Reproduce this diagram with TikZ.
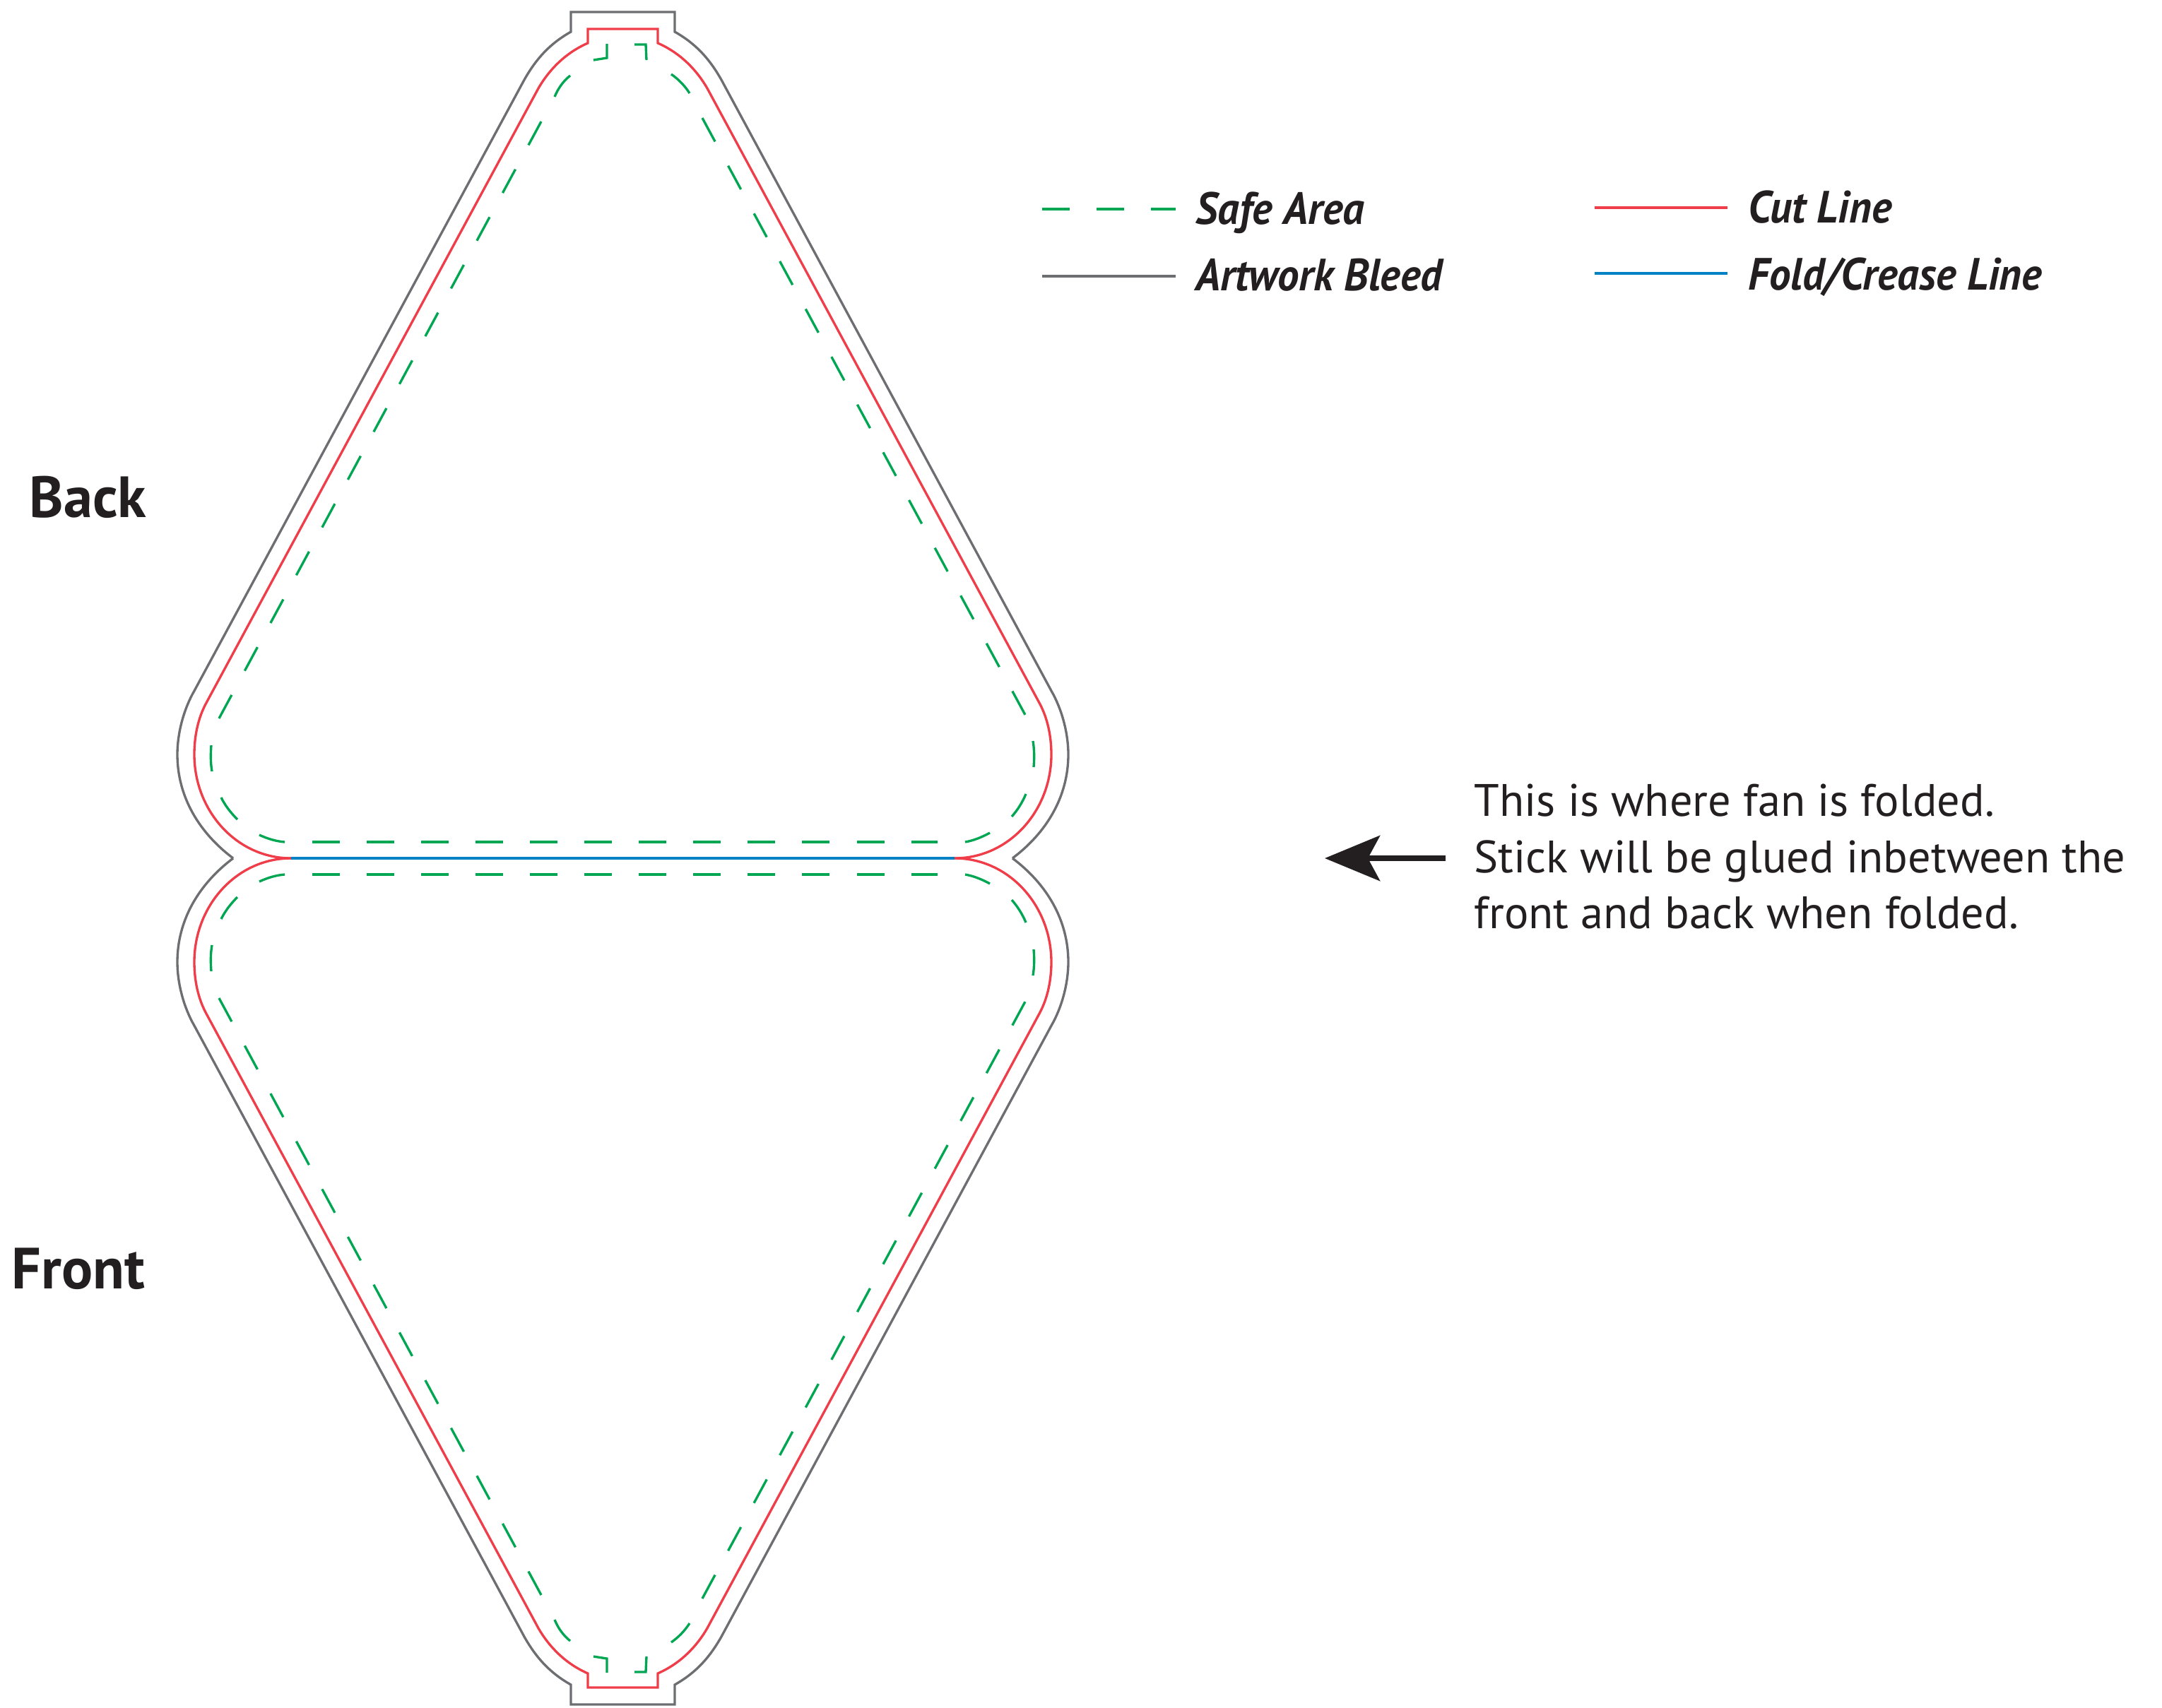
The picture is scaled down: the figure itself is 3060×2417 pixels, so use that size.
\documentclass[tikz,border=0pt]{standalone}
\usepackage{fontspec}
\usetikzlibrary{arrows.meta}
\setmainfont{PT Sans}
\newfontfamily\legendfont[FakeStretch=0.95]{PT Sans}
\definecolor{bleedgray}{HTML}{6D6E71}
\definecolor{cutred}{HTML}{EF3E4A}
\definecolor{safegreen}{HTML}{00A651}
\definecolor{foldblue}{HTML}{0082C4}
\definecolor{inkblack}{HTML}{231F20}
\tikzset{
  bleedline/.style={draw=bleedgray,line width=0.95pt,line join=miter},
  cutline/.style={draw=cutred,line width=0.95pt,line join=miter},
  foldline/.style={draw=foldblue,line width=0.95pt},
  safeline/.style={draw=safegreen,line width=0.95pt},
  legendtext/.style={inner sep=0pt,anchor=base west,text=inkblack,font=\legendfont\bfseries\itshape\fontsize{18.2}{22}\selectfont},
  paneltext/.style={inner sep=0pt,anchor=base east,text=inkblack,font=\bfseries\fontsize{23.4}{26}\selectfont},
  notetext/.style={inner sep=0pt,anchor=north west,align=left,text=inkblack,font=\fontsize{18.3}{22.7}\selectfont},
}
\newcommand{\fanpanel}{%
  \draw[bleedline] (330,1215) .. controls (282,1179) and (251,1128) .. (251,1068)
    .. controls (251,1038) and (260,1004) .. (275,978) -- (742,113)
    .. controls (759,83) and (778,62) .. (808,45) -- (808,17) -- (955,17) -- (955,45)
    .. controls (985,62) and (1004,83) .. (1021,113) -- (1488,978)
    .. controls (1503,1004) and (1512,1038) .. (1512,1068)
    .. controls (1512,1128) and (1481,1179) .. (1433,1215);
  \draw[cutline] (412,1215) .. controls (335,1215) and (275,1148) .. (275,1068)
    .. controls (275,1043) and (280,1017) .. (292,995) -- (762,125)
    .. controls (777,99) and (800,75) .. (832,61) -- (832,41) -- (931,41) -- (931,61)
    .. controls (963,75) and (986,99) .. (1001,125) -- (1471,995)
    .. controls (1483,1017) and (1488,1043) .. (1488,1068)
    .. controls (1488,1148) and (1428,1215) .. (1351,1215);
  % safe area, left half
  \draw[safeline] (859,62) -- (859,82) -- (840,85);
  \draw[safeline] (807,107) .. controls (797,115) and (790,125) .. (785,137);
  \draw[safeline,dash pattern=on 10.81pt off 11.05pt] (766,172) -- (310,1017);
  \draw[safeline] (299,1055) .. controls (298,1068) and (298,1080) .. (300,1092);
  \draw[safeline] (313,1129) .. controls (319,1141) and (327,1151) .. (336,1160);
  \draw[safeline] (367,1182) .. controls (378,1187) and (390,1191) .. (403,1192);
  % safe area, along the fold
  \draw[safeline,dash pattern=on 11.1pt off 10.81pt] (442,1192) -- (1327,1192);
  % safe area, right half
  \draw[safeline] (898,63) -- (914,63) -- (915,85);
  \draw[safeline] (950,105) .. controls (960,112) and (969,121) .. (976,132);
  \draw[safeline,dash pattern=on 10.81pt off 11.05pt] (994,167) -- (1451,1012);
  \draw[safeline] (1462,1049) .. controls (1464,1061) and (1464,1074) .. (1463,1086);
  \draw[safeline] (1452,1124) .. controls (1447,1136) and (1440,1147) .. (1432,1156);
  \draw[safeline] (1401,1179) .. controls (1390,1185) and (1378,1190) .. (1366,1192);
}
\begin{document}
\begin{tikzpicture}[x=0.01cm,y=-0.01cm]
  \useasboundingbox (0,0) rectangle (3060,2417);
  \fanpanel
  \begin{scope}[shift={(0,2430)},yscale=-1]
    \fanpanel
  \end{scope}
  \coordinate (foldL) at (412,1215);
  \coordinate (foldR) at (1351,1215);
  \draw[foldline] (foldL) -- (foldR);

  \node[paneltext] (back) at (208,732) {Back};
  \node[paneltext] (front) at (206,1824) {Front};

  % legend
  \coordinate (safeA) at (1475,296);   \coordinate (safeB) at (1664,296);
  \coordinate (bleedA) at (1475,391);  \coordinate (bleedB) at (1664,391);
  \coordinate (cutA) at (2257,294);    \coordinate (cutB) at (2445,294);
  \coordinate (creaseA) at (2257,387); \coordinate (creaseB) at (2445,387);
  \draw[safeline,dash pattern=on 11.1pt off 10.81pt] (safeA) -- (safeB);
  \draw[bleedline] (bleedA) -- (bleedB);
  \draw[cutline] (cutA) -- (cutB);
  \draw[foldline] (creaseA) -- (creaseB);
  \node[legendtext] (safelabel) at (1692,317) {Safe Area};
  \node[legendtext] (bleedlabel) at (1692,411) {Artwork Bleed};
  \node[legendtext] (cutlabel) at (2474,315) {Cut Line};
  \node[legendtext] (creaselabel) at (2474,410) {Fold/Crease Line};

  % note and arrow
  \node[notetext] (note) at (2086,1109) {This is where fan is folded.\\Stick will be glued inbetween the\\front and back when folded.};
  \coordinate (arrowtail) at (2046,1215);
  \coordinate (arrowtip) at (1875,1215);
  \draw[draw=inkblack,line width=0.08cm,-{Stealth[length=0.78cm,width=0.64cm,inset=0.17cm,fill=inkblack]}] (arrowtail) -- (arrowtip);
\end{tikzpicture}
\end{document}
